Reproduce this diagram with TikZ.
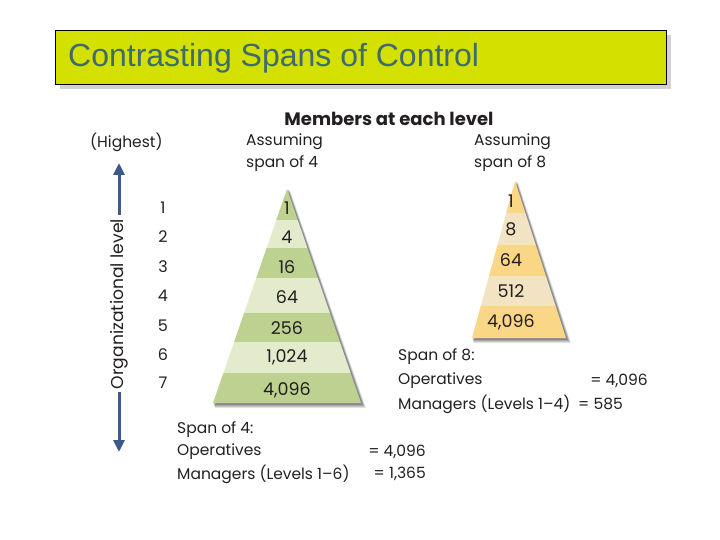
\documentclass[tikz,border=0pt]{standalone}
\usepackage{fontspec}
\setmainfont{Liberation Sans}
\newfontfamily\ff{Poppins}
\usetikzlibrary{arrows.meta}
\definecolor{titlebg}{HTML}{D4E000}
\definecolor{titlefg}{HTML}{3E6B6E}
\definecolor{gdark}{HTML}{BDD291}
\definecolor{glight}{HTML}{E4EBCD}
\definecolor{odark}{HTML}{FAD787}
\definecolor{olight}{HTML}{F2E4C3}
\definecolor{arrowblue}{HTML}{3B5A8A}
\definecolor{ink}{HTML}{231F20}
\tikzset{
  txt/.style={font=\ff\fontsize{15.5}{22}\selectfont, text=ink, inner sep=0pt},
  num/.style={txt, font=\ff\fontsize{17.5}{21}\selectfont, anchor=center},
  lbl/.style={txt, anchor=west},
  axisarrow/.style={arrowblue, line width=3pt, -{Triangle[length=12pt,width=11pt]}},
}
\begin{document}
\begin{tikzpicture}[x=1pt,y=-1pt]
\useasboundingbox (0,0) rectangle (720,540);
% title
\fill[gray!35] (60,35) rectangle (671,89);
\node[draw=black, line width=0.8pt, fill=titlebg, minimum width=611pt, minimum height=54pt, anchor=north west, inner sep=0pt] (titlebox) at (55,30) {};
\node[anchor=west, text=titlefg, font=\fontsize{32}{36}\selectfont, inner sep=0pt] (title) at (68,58) {Contrasting Spans of Control};
% headers
\node[txt, font=\ff\bfseries\fontsize{18}{21}\selectfont] (members) at (389,119) {Members at each level};
\node[lbl] (highest) at (90,142) {(Highest)};
\node[lbl, align=left] (as4) at (246,153) {Assuming\\span of 4};
\node[lbl, align=left] (as8) at (474,153) {Assuming\\span of 8};
% organizational level axis
\node[txt, font=\ff\fontsize{17.2}{20}\selectfont] (orgl) at (119,304) {\rotatebox{90}{Organizational level}};
\coordinate (orgtop) at (119,215);
\coordinate (orgbot) at (119,392);
\coordinate (atop) at (119,163);
\coordinate (abot) at (119,452);
\draw[axisarrow] (orgtop) -- (atop);
\draw[axisarrow] (orgbot) -- (abot);
\foreach \i/\y in {1/208,2/237,3/267,4/296,5/326,6/355,7/383}{
  \node[num, font=\ff\fontsize{16}{19}\selectfont] (lv\i) at (163,\y) {\i};
}
% span of 4 pyramid
\foreach \o/\a in {5/0.10,4/0.12,3/0.15,2/0.2}{
  \fill[black, opacity=\a] (287+\o*0.6,189+\o*0.3) -- (361+\o,403+\o) -- (213+\o*0.3,403+\o) -- cycle;
}
\begin{scope}
\clip (287,189) -- (361,403) -- (213,403) -- cycle;
\fill[gdark] (200,185) rectangle (380,220);
\fill[glight] (200,220) rectangle (380,248);
\fill[gdark] (200,248) rectangle (380,278);
\fill[glight] (200,278) rectangle (380,313);
\fill[gdark] (200,313) rectangle (380,342);
\fill[glight] (200,342) rectangle (380,373);
\fill[gdark] (200,373) rectangle (380,405);
\end{scope}
\foreach \n/\t/\y in {a1/1/208,a2/4/237,a3/16/267,a4/64/297,a5/256/328,a6/{1,024}/357,a7/{4,096}/390}{
  \node[num] (\n) at (287,\y) {\t};
}
% span of 8 pyramid
\foreach \o/\a in {5/0.10,4/0.12,3/0.15,2/0.2}{
  \fill[black, opacity=\a] (515+\o*0.6,181+\o*0.3) -- (566+\o,338+\o) -- (472+\o*0.3,338+\o) -- cycle;
}
\begin{scope}
\clip (515,181) -- (566,338) -- (472,338) -- cycle;
\fill[odark] (460,175) rectangle (580,213);
\fill[olight] (460,213) rectangle (580,245);
\fill[odark] (460,245) rectangle (580,276);
\fill[olight] (460,276) rectangle (580,306);
\fill[odark] (460,306) rectangle (580,340);
\end{scope}
\foreach \n/\t/\y in {b1/1/201,b2/8/229,b3/64/260,b4/512/291,b5/{4,096}/322}{
  \node[num] (\n) at (511,\y) {\t};
}
% summaries
\node[lbl] (s8a) at (398,357) {Span of 8:};
\node[lbl] (s8b) at (398,381) {Operatives};
\node[lbl] (s8c) at (398,404) {Managers (Levels 1–4)};
\node[txt, anchor=east] (s8d) at (648,381) {= 4,096};
\node[txt, anchor=west] (s8e) at (578,404) {= 585};
\node[lbl] (s4a) at (177,430) {Span of 4:};
\node[lbl] (s4b) at (177,452) {Operatives};
\node[lbl] (s4c) at (177,474) {Managers (Levels 1–6)};
\node[txt, anchor=east] (s4d) at (426,452) {= 4,096};
\node[txt, anchor=east] (s4e) at (426,474) {= 1,365};
\end{tikzpicture}
\end{document}
